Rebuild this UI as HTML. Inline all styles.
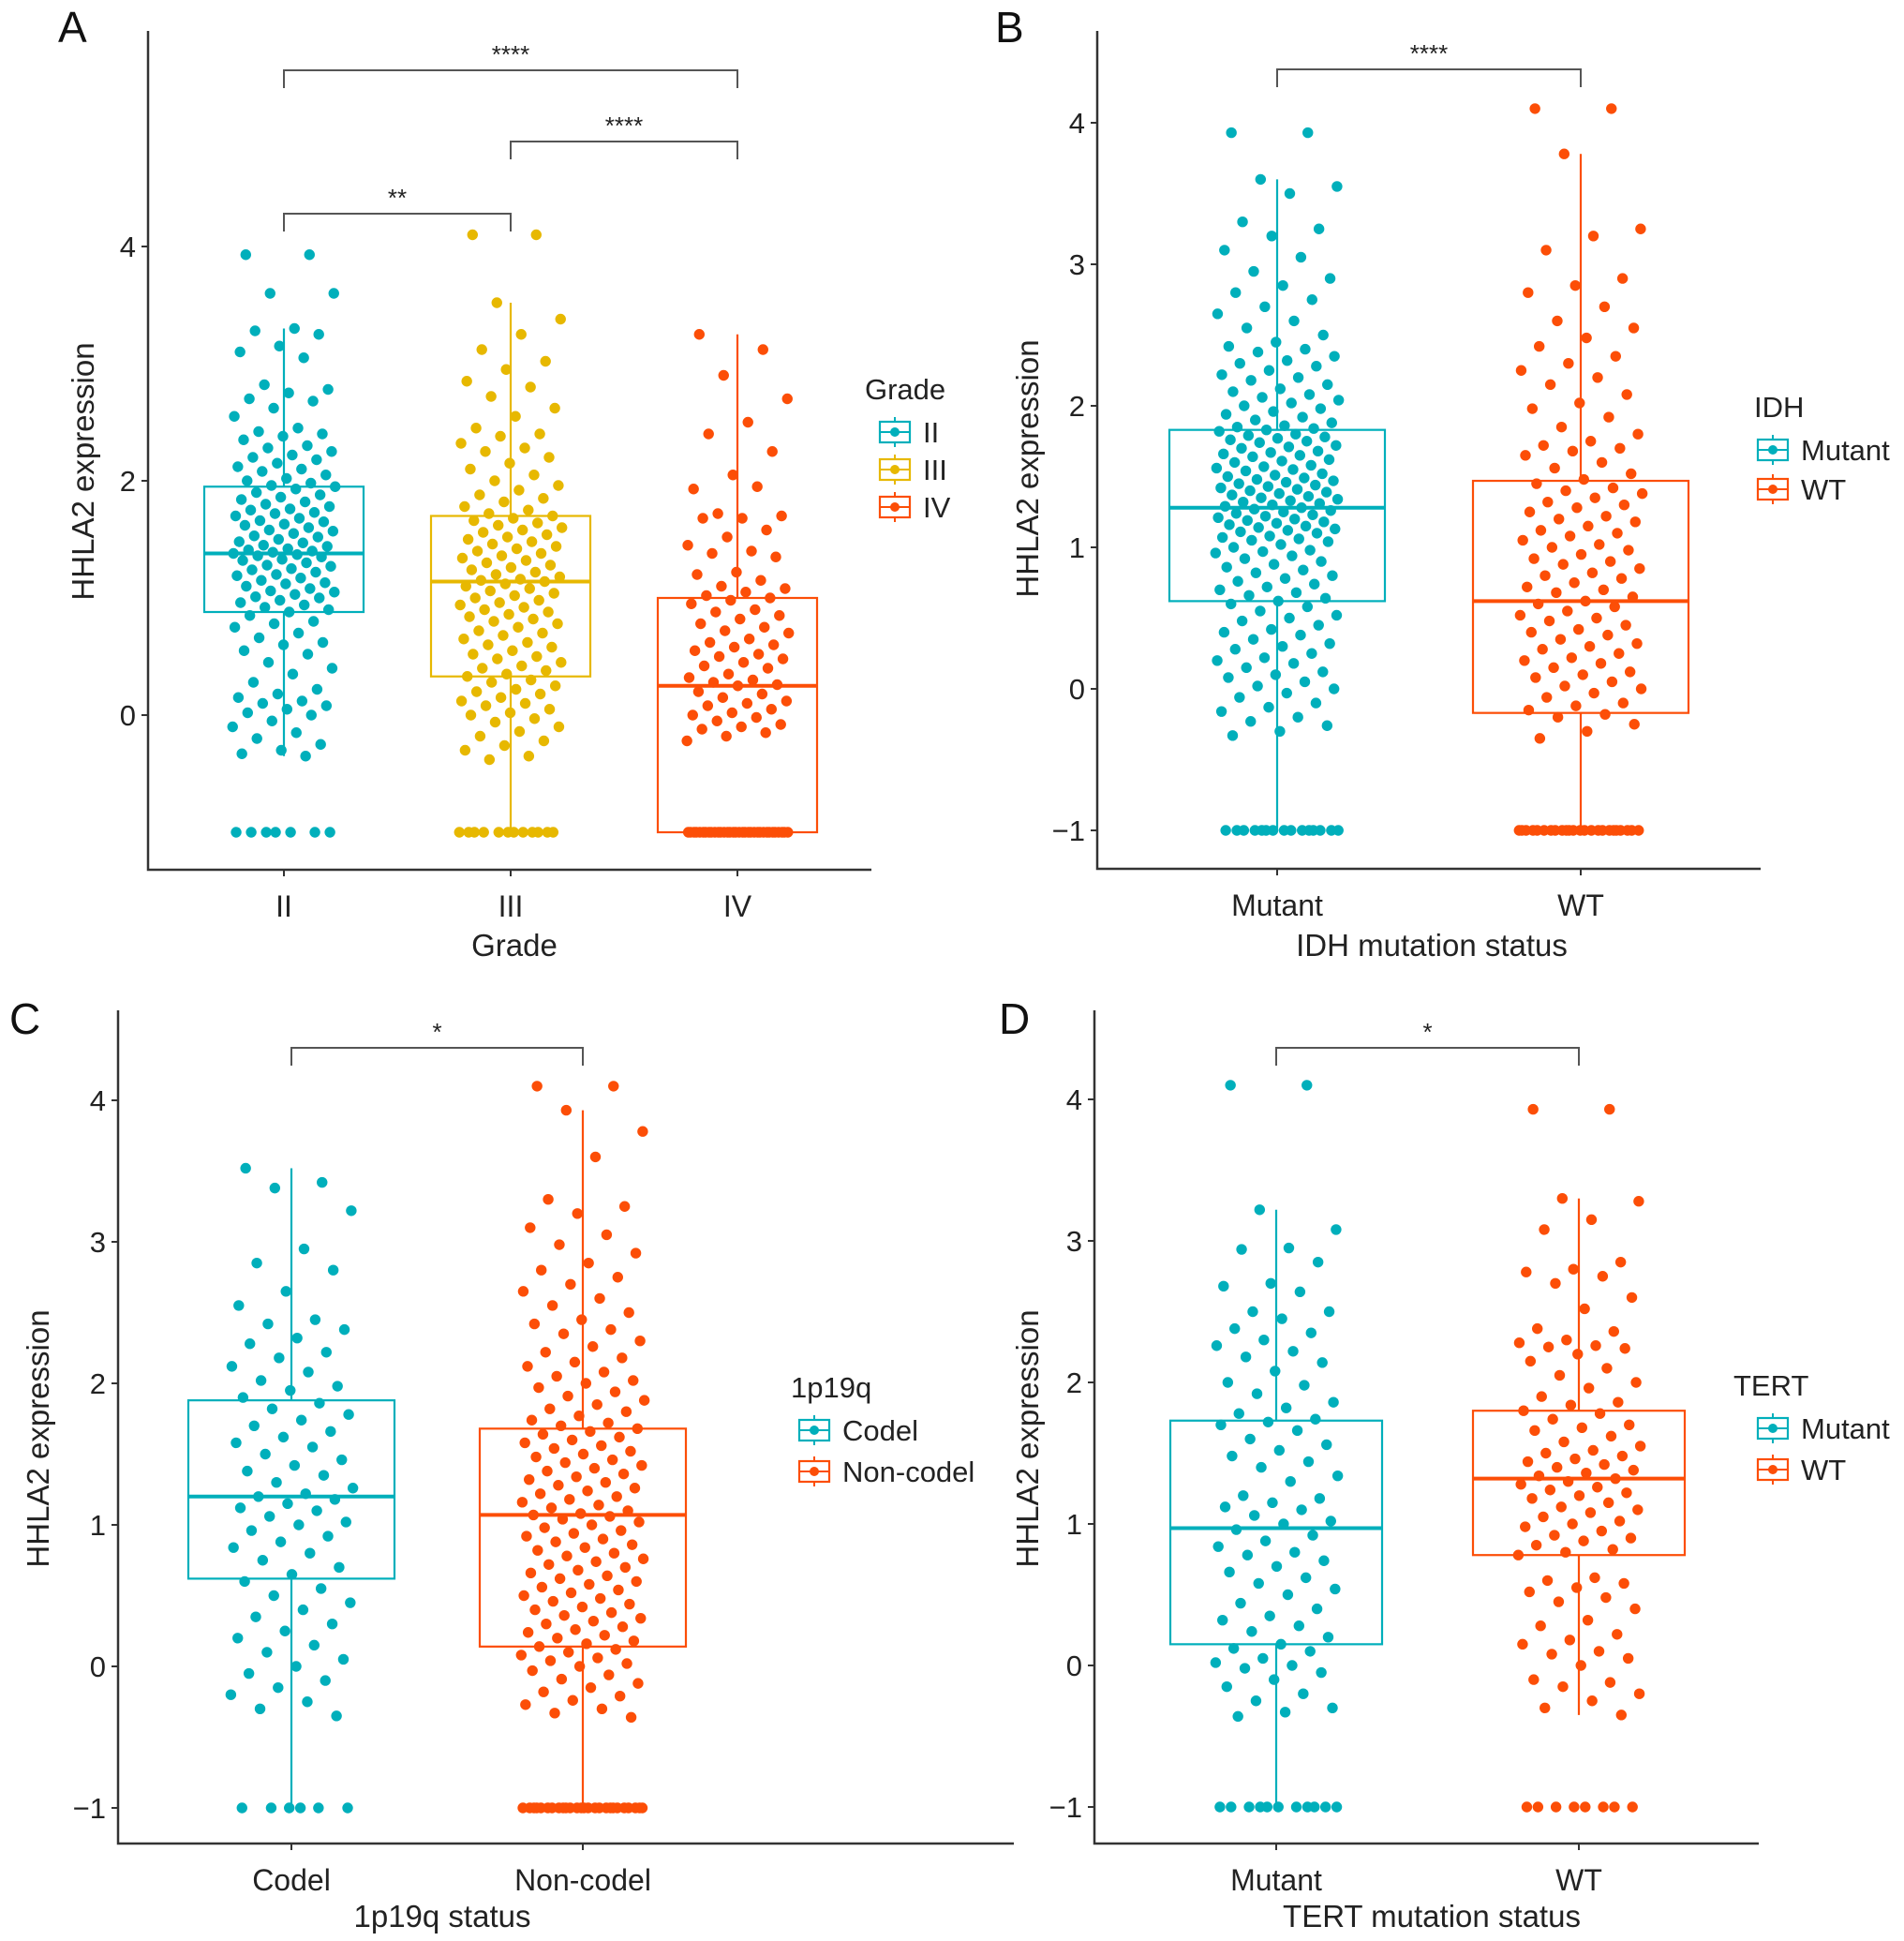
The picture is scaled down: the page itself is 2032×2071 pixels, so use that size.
<!DOCTYPE html>
<html><head><meta charset="utf-8">
<style>
html,body{margin:0;padding:0;background:#fff;}
svg{display:block;font-family:"Liberation Sans",Arial,sans-serif;}
</style></head>
<body>
<svg id="fig" width="2032" height="2071" viewBox="0 0 2032 2071" xmlns="http://www.w3.org/2000/svg"></svg>
<script>
// ---------- DATA ----------
const catsA=["II","III","IV"];
const q1A=[0.88,0.33,-1.0], medA=[1.38,1.14,0.25], q3A=[1.95,1.70,1.00], loA=[-0.35,-1,-1], hiA=[3.30,3.52,3.25];
const ptsA0=[3.93,3.93,3.6,3.6,3.3,3.28,3.25,3.15,3.1,3.05,2.82,2.78,2.75,2.7,2.68,2.62,2.55,2.45,2.42,2.4,2.38,2.35,2.3,2.28,2.25,2.22,2.2,2.18,2.15,2.12,2.1,2.08,2.05,2.02,2.0,1.98,1.96,1.95,1.93,1.9,1.88,1.86,1.84,1.82,1.8,1.78,1.76,1.75,1.73,1.72,1.7,1.68,1.66,1.65,1.63,1.62,1.6,1.58,1.57,1.55,1.53,1.52,1.5,1.48,1.47,1.45,1.44,1.42,1.41,1.4,1.39,1.38,1.37,1.36,1.35,1.33,1.32,1.3,1.28,1.27,1.25,1.24,1.22,1.2,1.19,1.17,1.15,1.13,1.12,1.1,1.08,1.06,1.05,1.03,1.01,1.0,0.98,0.96,0.94,0.92,0.9,0.88,0.85,0.8,0.78,0.75,0.7,0.66,0.62,0.6,0.55,0.52,0.45,0.4,0.35,0.28,0.22,0.18,0.15,0.12,0.1,0.08,0.05,0.02,0.0,-0.05,-0.1,-0.15,-0.2,-0.25,-0.3,-0.33,-0.35,-1,-1,-1,-1,-1,-1,-1];
const ptsA1=[4.1,4.1,3.52,3.38,3.25,3.12,3.02,2.95,2.85,2.8,2.72,2.62,2.55,2.45,2.4,2.38,2.32,2.28,2.25,2.2,2.15,2.1,2.05,2.0,1.96,1.92,1.88,1.85,1.82,1.78,1.75,1.72,1.7,1.68,1.66,1.64,1.62,1.6,1.58,1.56,1.54,1.52,1.5,1.48,1.46,1.44,1.42,1.4,1.38,1.36,1.34,1.32,1.3,1.28,1.26,1.24,1.22,1.2,1.18,1.16,1.15,1.14,1.12,1.1,1.08,1.06,1.04,1.02,1.0,0.98,0.96,0.94,0.92,0.9,0.88,0.86,0.84,0.82,0.8,0.78,0.75,0.72,0.7,0.68,0.65,0.62,0.6,0.58,0.55,0.52,0.5,0.48,0.45,0.42,0.4,0.38,0.35,0.33,0.3,0.28,0.25,0.22,0.2,0.18,0.15,0.12,0.1,0.08,0.05,0.02,0.0,-0.03,-0.06,-0.1,-0.14,-0.18,-0.22,-0.26,-0.3,-0.35,-0.38,-1,-1,-1,-1,-1,-1,-1,-1,-1,-1,-1,-1];
const ptsA2=[3.25,3.12,2.9,2.7,2.5,2.4,2.25,2.05,1.93,1.95,1.72,1.7,1.68,1.68,1.58,1.52,1.45,1.4,1.38,1.35,1.22,1.2,1.15,1.1,1.08,1.05,1.02,1.0,0.98,0.95,0.9,0.88,0.85,0.82,0.78,0.75,0.72,0.7,0.65,0.62,0.6,0.58,0.55,0.52,0.5,0.48,0.45,0.42,0.4,0.35,0.32,0.3,0.28,0.26,0.25,0.2,0.18,0.15,0.12,0.1,0.08,0.05,0.02,0.0,-0.02,-0.05,-0.08,-0.1,-0.12,-0.15,-0.18,-0.22,-1,-1,-1,-1,-1,-1,-1,-1,-1,-1,-1,-1,-1,-1,-1,-1,-1,-1,-1,-1,-1,-1,-1,-1,-1,-1,-1,-1,-1,-1,-1,-1,-1,-1];

const catsB=["Mutant","WT"];
const q1B=[0.62,-0.17], medB=[1.28,0.62], q3B=[1.83,1.47], loB=[-1,-1], hiB=[3.6,3.78];
const ptsB0=[3.93,3.93,3.6,3.55,3.5,3.3,3.25,3.2,3.1,3.05,2.95,2.9,2.85,2.8,2.75,2.7,2.65,2.6,2.55,2.5,2.45,2.42,2.4,2.38,2.35,2.32,2.3,2.28,2.25,2.22,2.2,2.18,2.15,2.12,2.1,2.08,2.06,2.04,2.02,2.0,1.98,1.96,1.94,1.92,1.9,1.88,1.86,1.85,1.84,1.83,1.82,1.8,1.79,1.78,1.77,1.76,1.75,1.74,1.72,1.71,1.7,1.68,1.67,1.66,1.65,1.64,1.62,1.61,1.6,1.58,1.57,1.56,1.55,1.54,1.52,1.51,1.5,1.49,1.48,1.47,1.46,1.45,1.44,1.43,1.42,1.41,1.4,1.39,1.38,1.37,1.36,1.35,1.34,1.33,1.32,1.31,1.3,1.29,1.28,1.27,1.26,1.25,1.24,1.23,1.22,1.21,1.2,1.19,1.18,1.17,1.16,1.15,1.14,1.13,1.12,1.11,1.1,1.08,1.07,1.06,1.05,1.04,1.02,1.0,0.98,0.97,0.96,0.94,0.92,0.9,0.88,0.86,0.84,0.82,0.8,0.78,0.76,0.74,0.72,0.7,0.68,0.66,0.64,0.62,0.6,0.58,0.55,0.52,0.5,0.48,0.45,0.42,0.4,0.38,0.35,0.32,0.3,0.28,0.25,0.22,0.2,0.18,0.15,0.12,0.1,0.08,0.05,0.02,0.0,-0.03,-0.06,-0.1,-0.13,-0.16,-0.2,-0.23,-0.26,-0.3,-0.33,-1,-1,-1,-1,-1,-1,-1,-1,-1,-1,-1,-1,-1,-1,-1];
const ptsB1=[4.1,4.1,3.78,3.25,3.2,3.1,2.9,2.85,2.8,2.7,2.6,2.55,2.48,2.42,2.35,2.3,2.25,2.2,2.15,2.08,2.02,1.98,1.92,1.85,1.8,1.75,1.72,1.7,1.68,1.65,1.6,1.56,1.52,1.48,1.45,1.42,1.4,1.38,1.35,1.32,1.3,1.28,1.25,1.22,1.2,1.18,1.15,1.12,1.1,1.08,1.05,1.02,1.0,0.98,0.95,0.92,0.9,0.88,0.85,0.82,0.8,0.78,0.75,0.72,0.7,0.68,0.65,0.62,0.6,0.58,0.55,0.52,0.5,0.48,0.45,0.42,0.4,0.38,0.35,0.32,0.3,0.28,0.25,0.22,0.2,0.18,0.15,0.12,0.1,0.08,0.05,0.02,0.0,-0.03,-0.06,-0.1,-0.12,-0.15,-0.18,-0.2,-0.25,-0.3,-0.35,-1,-1,-1,-1,-1,-1,-1,-1,-1,-1,-1,-1,-1,-1,-1,-1,-1,-1,-1,-1,-1,-1,-1,-1];

const catsC=["Codel","Non-codel"];
const q1C=[0.62,0.14], medC=[1.2,1.07], q3C=[1.88,1.68], loC=[-1,-1], hiC=[3.52,3.93];
const ptsC0=[3.52,3.42,3.38,3.22,2.95,2.85,2.8,2.65,2.55,2.45,2.42,2.38,2.32,2.28,2.22,2.18,2.12,2.08,2.02,1.98,1.95,1.9,1.86,1.82,1.78,1.74,1.7,1.66,1.62,1.58,1.55,1.5,1.46,1.42,1.38,1.35,1.3,1.26,1.22,1.2,1.18,1.15,1.12,1.1,1.06,1.02,1.0,0.96,0.92,0.88,0.84,0.8,0.75,0.7,0.65,0.6,0.55,0.5,0.45,0.4,0.35,0.3,0.25,0.2,0.15,0.1,0.05,0.0,-0.05,-0.1,-0.15,-0.2,-0.25,-0.3,-0.35,-1,-1,-1,-1,-1,-1];
const ptsC1=[4.1,4.1,3.93,3.78,3.6,3.3,3.25,3.2,3.1,3.05,2.98,2.92,2.85,2.8,2.75,2.7,2.65,2.6,2.55,2.5,2.45,2.42,2.38,2.35,2.3,2.26,2.22,2.18,2.15,2.12,2.08,2.05,2.02,2.0,1.97,1.94,1.91,1.88,1.85,1.82,1.8,1.77,1.74,1.72,1.7,1.68,1.66,1.64,1.62,1.6,1.58,1.56,1.54,1.52,1.5,1.48,1.46,1.44,1.42,1.4,1.38,1.36,1.34,1.32,1.3,1.28,1.26,1.24,1.22,1.2,1.18,1.16,1.14,1.12,1.1,1.08,1.07,1.06,1.04,1.02,1.0,0.98,0.96,0.94,0.92,0.9,0.88,0.86,0.84,0.82,0.8,0.78,0.76,0.74,0.72,0.7,0.68,0.66,0.64,0.62,0.6,0.58,0.56,0.54,0.52,0.5,0.48,0.46,0.44,0.42,0.4,0.38,0.36,0.34,0.32,0.3,0.28,0.26,0.24,0.22,0.2,0.18,0.16,0.14,0.12,0.1,0.08,0.06,0.04,0.02,0.0,-0.03,-0.06,-0.09,-0.12,-0.15,-0.18,-0.21,-0.24,-0.27,-0.3,-0.33,-0.36,-1,-1,-1,-1,-1,-1,-1,-1,-1,-1,-1,-1,-1,-1,-1,-1,-1,-1,-1,-1,-1,-1,-1,-1,-1,-1];

const catsD=["Mutant","WT"];
const q1D=[0.15,0.78], medD=[0.97,1.32], q3D=[1.73,1.8], loD=[-1,-0.35], hiD=[3.22,3.3];
const ptsD0=[4.1,4.1,3.22,3.08,2.95,2.94,2.85,2.7,2.68,2.64,2.5,2.5,2.45,2.38,2.35,2.3,2.26,2.22,2.18,2.14,2.08,2.0,1.98,1.92,1.86,1.82,1.78,1.74,1.72,1.7,1.66,1.6,1.56,1.52,1.48,1.44,1.4,1.34,1.3,1.2,1.18,1.15,1.12,1.1,1.06,1.02,1.0,0.96,0.92,0.88,0.84,0.8,0.78,0.74,0.7,0.66,0.62,0.58,0.54,0.5,0.44,0.4,0.35,0.32,0.28,0.24,0.2,0.15,0.12,0.1,0.05,0.02,0.0,-0.02,-0.05,-0.1,-0.15,-0.2,-0.25,-0.3,-0.33,-0.36,-1,-1,-1,-1,-1,-1,-1,-1,-1,-1,-1];
const ptsD1=[3.93,3.93,3.3,3.28,3.15,3.08,2.85,2.8,2.78,2.75,2.7,2.6,2.52,2.38,2.36,2.3,2.28,2.26,2.25,2.24,2.2,2.15,2.1,2.05,2.0,1.96,1.9,1.86,1.84,1.8,1.78,1.74,1.7,1.68,1.66,1.62,1.58,1.55,1.52,1.5,1.48,1.46,1.44,1.42,1.4,1.38,1.36,1.34,1.32,1.3,1.28,1.26,1.24,1.22,1.2,1.18,1.15,1.12,1.1,1.08,1.05,1.02,1.0,0.98,0.95,0.92,0.9,0.88,0.85,0.82,0.8,0.78,0.62,0.6,0.58,0.55,0.52,0.48,0.45,0.4,0.32,0.28,0.22,0.18,0.15,0.1,0.08,0.05,0.0,-0.1,-0.12,-0.15,-0.2,-0.25,-0.3,-0.35,-1,-1,-1,-1,-1,-1,-1,-1];

const yTicks=[-1,0,1,2,3,4];
const yTicksA=[0,2,4];
const colors=["#00AFBB","#E7B800","#FC4E07"];

// ---------- DRAW ----------
const NS="http://www.w3.org/2000/svg";
const svg=document.getElementById('fig');
function el(tag,attrs,parent){const e=document.createElementNS(NS,tag);for(const k in attrs)e.setAttribute(k,attrs[k]);(parent||svg).appendChild(e);return e;}
function txt(s,attrs,parent){const t=el('text',attrs,parent);t.textContent=s;return t;}

function panel(cfg){
  const g=el('g',{});
  
  
  const y=v=>cfg.y0-v*cfg.unit;
  const x=i=>cfg.xc0+i*cfg.step;
  const ax=el('path',{d:`M${cfg.axX},${cfg.top} V${cfg.bot} H${cfg.right}`,stroke:'#333',fill:'none','stroke-width':2.5},g);
  
  
  cfg.ticks.forEach(t=>{
    el('line',{x1:cfg.axX-7,x2:cfg.axX,y1:y(t),y2:y(t),stroke:'#333','stroke-width':2},g);
    const l=txt(t<0?'\u2212'+Math.abs(t):String(t),{x:cfg.axX-13,y:y(t)+11,'text-anchor':'end','font-size':31,fill:'#222'},g);
    
    
  });
  cfg.cats.forEach((c,i)=>{
    el('line',{x1:x(i),x2:x(i),y1:cfg.bot,y2:cfg.bot+7,stroke:'#333','stroke-width':2},g);
    const l=txt(c,{x:x(i),y:cfg.bot+50,'text-anchor':'middle','font-size':32,fill:'#222'},g);
    
    
  });
  cfg.cats.forEach((c,i)=>{
    const col=colors[cfg.col[i]], cx=x(i), hw=cfg.hw;
    const bg=el('g',{},g);
    
    
    el('line',{x1:cx,x2:cx,y1:y(cfg.hi[i]),y2:y(cfg.q3[i]),stroke:col,'stroke-width':2.2},bg);
    el('line',{x1:cx,x2:cx,y1:y(cfg.q1[i]),y2:y(cfg.lo[i]),stroke:col,'stroke-width':2.2},bg);
    el('rect',{x:cx-hw,y:y(cfg.q3[i]),width:2*hw,height:y(cfg.q1[i])-y(cfg.q3[i]),fill:'none',stroke:col,'stroke-width':2.2},bg);
    el('line',{x1:cx-hw,x2:cx+hw,y1:y(cfg.med[i]),y2:y(cfg.med[i]),stroke:col,'stroke-width':4},bg);
    const pts=cfg.pts[i];
    pts.forEach((v,k)=>{
      const j=((k*0.6180339887+0.13)%1)*2-1;
      const d=el('circle',{cx:cx+j*cfg.jit,cy:y(v),r:5.7,fill:col},bg);
      
      
    });
  });
  cfg.br.forEach(b=>{
    const bb=el('g',{},g);
    
    
    el('path',{d:`M${x(b[0])},${b[2]+19} V${b[2]} H${x(b[1])} V${b[2]+19}`,stroke:'#555',fill:'none','stroke-width':2},bb);
    txt(b[3],{x:(x(b[0])+x(b[1]))/2,y:b[2]-8,'text-anchor':'middle','font-size':26,fill:'#222'},bb);
  });
  const yt=txt('HHLA2 expression',{x:0,y:0,transform:`translate(${cfg.ytX},${cfg.ytY}) rotate(-90)`,'text-anchor':'middle','font-size':33,fill:'#222'},g);
  
  
  const xt=txt(cfg.xTitle,{x:cfg.xtX,y:cfg.xtY,'text-anchor':'middle','font-size':33,fill:'#222'},g);
  
  
  const pl=txt(cfg.letter,{x:cfg.letX,y:cfg.letY,'font-size':46,fill:'#111'},g);
  
  
  const lg=el('g',{},g);
  
  
  txt(cfg.legTitle,{x:cfg.legX,y:cfg.legY+11,'font-size':31,fill:'#222'},lg);
  cfg.cats.forEach((c,i)=>{
    const col=colors[cfg.col[i]], ky=cfg.legY+46+i*cfg.legStep, kx=cfg.legX+cfg.keyOff;
    const e=el('g',{},lg);
    
    
    el('line',{x1:kx+16,x2:kx+16,y1:ky-16,y2:ky+16,stroke:col,'stroke-width':2},e);
    el('rect',{x:kx,y:ky-11,width:32,height:22,fill:'#fff',stroke:col,'stroke-width':2.2},e);
    el('line',{x1:kx,x2:kx+32,y1:ky,y2:ky,stroke:col,'stroke-width':2},e);
    el('circle',{cx:kx+16,cy:ky,r:5,fill:col},e);
    txt(c,{x:kx+46,y:ky+11,'font-size':31,fill:'#222'},e);
  });
}

panel({name:'panel-a-grade',cats:catsA,col:[0,1,2],q1:q1A,med:medA,q3:q3A,lo:loA,hi:hiA,pts:[ptsA0,ptsA1,ptsA2],
  y0:763,unit:125,xc0:303,step:242,hw:85,jit:55,axX:158,top:33,bot:928,right:930,ticks:yTicksA,
  br:[[0,2,75,'****'],[1,2,151,'****'],[0,1,228,'**']],
  ytX:100,ytY:503,xTitle:'Grade',xtX:549,xtY:1020,letter:'A',letX:62,letY:45,
  legTitle:'Grade',legX:923,legY:415,legStep:40,keyOff:16});
panel({name:'panel-b-idh',cats:catsB,col:[0,2],q1:q1B,med:medB,q3:q3B,lo:loB,hi:hiB,pts:[ptsB0,ptsB1],
  y0:735,unit:151,xc0:1363,step:324,hw:115,jit:66,axX:1171,top:33,bot:927,right:1879,ticks:yTicks,
  br:[[0,1,74,'****']],
  ytX:1108,ytY:500,xTitle:'IDH mutation status',xtX:1528,xtY:1020,letter:'B',letX:1062,letY:45,
  legTitle:'IDH',legX:1872,legY:434,legStep:42,keyOff:4});
panel({name:'panel-c-1p19q',cats:catsC,col:[0,2],q1:q1C,med:medC,q3:q3C,lo:loC,hi:hiC,pts:[ptsC0,ptsC1],
  y0:1778,unit:151,xc0:311,step:311,hw:110,jit:66,axX:126,top:1078,bot:1967,right:1082,ticks:yTicks,
  br:[[0,1,1118,'*']],
  ytX:52,ytY:1535,xTitle:'1p19q status',xtX:472,xtY:2056,letter:'C',letX:10,letY:1103,
  legTitle:'1p19q',legX:844,legY:1480,legStep:44,keyOff:9});
panel({name:'panel-d-tert',cats:catsD,col:[0,2],q1:q1D,med:medD,q3:q3D,lo:loD,hi:hiD,pts:[ptsD0,ptsD1],
  y0:1777,unit:151,xc0:1362,step:323,hw:113,jit:66,axX:1168,top:1078,bot:1967,right:1877,ticks:yTicks,
  br:[[0,1,1118,'*']],
  ytX:1108,ytY:1535,xTitle:'TERT mutation status',xtX:1528,xtY:2056,letter:'D',letX:1066,letY:1103,
  legTitle:'TERT',legX:1850,legY:1478,legStep:44,keyOff:26});
</script>
</body></html>
